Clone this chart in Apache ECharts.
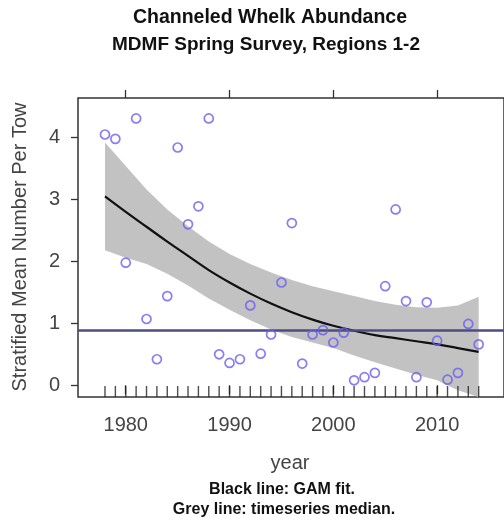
<!DOCTYPE html>
<html>
<head>
<meta charset="utf-8">
<script src="https://cdn.jsdelivr.net/npm/echarts@6/dist/echarts.min.js"></script>
<style>
html,body{margin:0;padding:0;background:#fff;}
#chart{width:504px;height:522px;}
</style>
</head>
<body>
<div id="chart"></div>
<script>
// ---- data ----
const years = [1978,1979,1980,1981,1982,1983,1984,1985,1986,1987,1988,1989,1990,1991,1992,1993,1994,1995,1996,1997,1998,1999,2000,2001,2002,2003,2004,2005,2006,2007,2008,2009,2010,2011,2012,2013,2014];
const abundance = [4.05,3.98,1.98,4.31,1.07,0.42,1.44,3.84,2.60,2.89,4.31,0.50,0.36,0.42,1.29,0.51,0.82,1.66,2.62,0.35,0.82,0.89,0.69,0.85,0.08,0.13,0.20,1.60,2.84,1.36,0.13,1.34,0.72,0.09,0.20,0.99,0.66];
const medianValue = 0.89;
const fitYears = [1978,1980,1982,1984,1986,1988,1990,1992,1994,1996,1998,2000,2002,2004,2006,2008,2010,2012,2014];
const fitValues = [3.05,2.80,2.56,2.32,2.09,1.86,1.66,1.48,1.32,1.18,1.06,0.96,0.88,0.81,0.76,0.71,0.66,0.60,0.54];
const fitUpper  = [3.92,3.54,3.16,2.84,2.57,2.32,2.12,1.96,1.82,1.70,1.60,1.52,1.44,1.36,1.30,1.26,1.25,1.29,1.43];
const fitLower  = [2.18,2.06,1.96,1.80,1.61,1.40,1.22,1.05,0.90,0.78,0.69,0.60,0.48,0.37,0.27,0.17,0.08,-0.08,-0.35];
const xTicks = [1980,1990,2000,2010];
const yTicks = [0,1,2,3,4];
const titleLines = ['Channeled Whelk Abundance','MDMF Spring Survey, Regions 1-2'];
const xName = 'year';
const yName = 'Stratified Mean Number Per Tow';
const notes = ['Black line: GAM fit.','Grey line: timeseries median.'];

// ---- chart ----
const FONT = '"Liberation Sans", Arial, Helvetica, sans-serif';
const xMin = 1975.4, xMax = 2016.44, yMin = -0.19, yMax = 4.64;
const chart = echarts.init(document.getElementById('chart'), null, {renderer:'canvas'});

const bandData = fitYears.map((y,i)=>[y, fitLower[i], fitUpper[i]]);
const fitData = fitYears.map((y,i)=>[y, fitValues[i]]);
const pointData = years.map((y,i)=>[y, abundance[i]]);
const rugData = years.map(y=>[y, yMin]);

function renderBand(params, api){
  if (params.dataIndex !== 0) return null;
  const n = bandData.length;
  const upper = [], lower = [];
  for (let i=0;i<n;i++){
    upper.push(api.coord([bandData[i][0], bandData[i][2]]));
    lower.push(api.coord([bandData[i][0], bandData[i][1]]));
  }
  const pts = upper.concat(lower.reverse());
  const cs = params.coordSys;
  const clipped = echarts.graphic.clipPointsByRect(pts, {x:cs.x, y:cs.y, width:cs.width, height:cs.height});
  return {type:'polygon', shape:{points:clipped}, style:{fill:'#c2c2c2'}, silent:true};
}

const numFmt = v => String(v);

const option = {
  animation:false,
  backgroundColor:'#fff',
  grid:{left:78, top:98, width:428, height:299, show:true, borderColor:'#333', borderWidth:1.5, backgroundColor:'transparent'},
  xAxis:[{
    type:'value', min:xMin, max:xMax, position:'bottom',
    axisLine:{show:false},
    splitLine:{show:false},
    axisTick:{show:true, customValues:xTicks, length:9, inside:false, lineStyle:{color:'#333', width:1.3}},
    axisLabel:{show:true, customValues:xTicks, formatter:numFmt, margin:18, fontSize:20, fontFamily:FONT, color:'#444'}
  },{
    type:'value', min:xMin, max:xMax, position:'top',
    axisLine:{show:false},
    splitLine:{show:false},
    axisTick:{show:true, customValues:xTicks, length:8, lineStyle:{color:'#333', width:1.3}},
    axisLabel:{show:false}
  }],
  yAxis:{
    type:'value', min:yMin, max:yMax,
    axisLine:{show:false},
    splitLine:{show:false},
    axisTick:{show:true, customValues:yTicks, length:7, lineStyle:{color:'#333', width:1.3}},
    axisLabel:{show:true, customValues:yTicks, formatter:numFmt, margin:18, fontSize:20, fontFamily:FONT, color:'#444'}
  },
  series:[
    {type:'custom', data:bandData, renderItem:renderBand, encode:{x:0, y:[1,2]}, silent:true, z:1},
    {type:'line', data:fitData, symbol:'none', smooth:0.4, lineStyle:{color:'#111', width:2.2}, silent:true, z:3},
    {type:'scatter', data:pointData, symbol:'circle', symbolSize:9,
     itemStyle:{color:'rgba(0,0,0,0)', borderColor:'#6a5cf0', borderWidth:1.7},
     markLine:{silent:true, symbol:'none', label:{show:false},
       lineStyle:{color:'#4e4e7e', width:2.5, type:'solid'},
       data:[{yAxis:medianValue}]}, z:5},
    {type:'scatter', data:rugData, symbol:'rect', symbolSize:[1.4,11], symbolOffset:[0,-5.5], clip:false,
     itemStyle:{color:'#222'}, silent:true, z:4}
  ],
  graphic:[
    {type:'text', x:270, y:18, style:{text:titleLines[0], font:'bold 19.5px '+FONT, fill:'#111', textAlign:'center', textVerticalAlign:'middle'}},
    {type:'text', x:266, y:45, style:{text:titleLines[1], font:'bold 19px '+FONT, fill:'#111', textAlign:'center', textVerticalAlign:'middle'}},
    {type:'text', x:20, y:247, rotation:Math.PI/2, style:{text:yName, font:'20px '+FONT, fill:'#444', textAlign:'center', textVerticalAlign:'middle'}},
    {type:'text', x:290, y:463, style:{text:xName, font:'20px '+FONT, fill:'#444', textAlign:'center', textVerticalAlign:'middle'}},
    {type:'text', x:282, y:490, style:{text:notes[0], font:'bold 16px '+FONT, fill:'#111', textAlign:'center', textVerticalAlign:'middle'}},
    {type:'text', x:284, y:510, style:{text:notes[1], font:'bold 16px '+FONT, fill:'#111', textAlign:'center', textVerticalAlign:'middle'}}
  ]
};
chart.setOption(option);
</script>
</body>
</html>
